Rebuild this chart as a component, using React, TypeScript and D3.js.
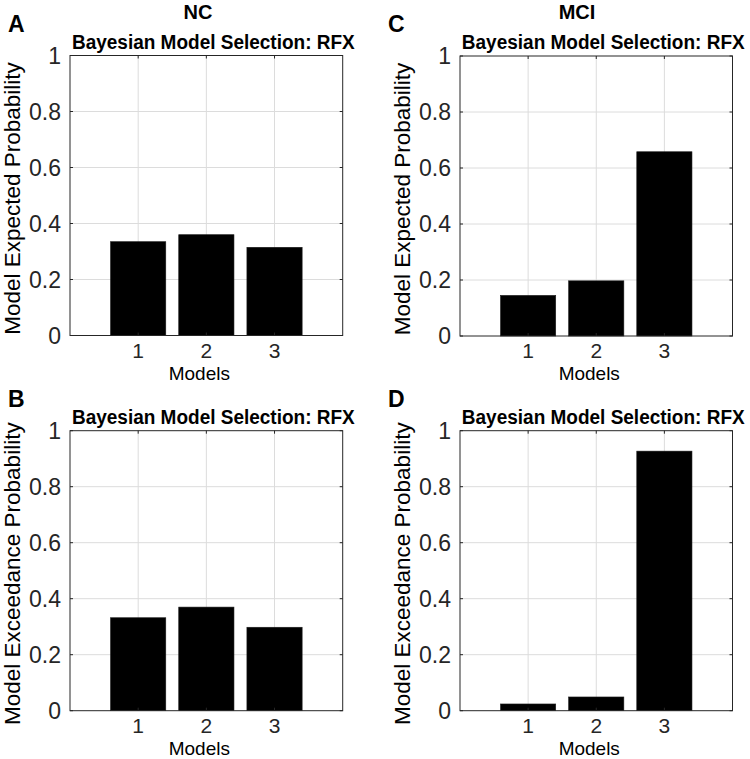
import React from "react";
import * as d3 from "d3";

const models = [1, 2, 3];
const ncExpected = [0.335, 0.36, 0.315];
const mciExpected = [0.145, 0.197, 0.658];
const ncExceedance = [0.332, 0.37, 0.298];
const mciExceedance = [0.024, 0.049, 0.927];
const yTicks = [0, 0.2, 0.4, 0.6, 0.8, 1];
const yTickLabels = ["0", "0.2", "0.4", "0.6", "0.8", "1"];
const groupTitles = ["NC", "MCI"];
const panelLetters = ["A", "B", "C", "D"];
const plotTitle = "Bayesian Model Selection: RFX";
const xLabel = "Models";
const yLabels = ["Model Expected Probability", "Model Exceedance Probability"];

const FONT = "'Liberation Sans', Arial, Helvetica, sans-serif";
const AX = "#262626";

type PanelProps = {
  values: number[];
  x0: number; x1: number; y0: number; y1: number;
  yLabel: string;
  letter: string;
  letterX: number;
};

function Panel({ values, x0, x1, y0, y1, yLabel, letter, letterX }: PanelProps) {
  const x = d3.scaleLinear().domain([0, 4]).range([x0, x1]);
  const y = d3.scaleLinear().domain([0, 1]).range([y1, y0]);
  const bw = x(0.81) - x(0);
  const tl = 3;
  const cx = (x0 + x1) / 2;
  const cy = (y0 + y1) / 2;
  return (
    <g>
      {models.map((m) => (
        <line key={"gx" + m} x1={x(m)} x2={x(m)} y1={y0} y2={y1} stroke="#dcdcdc" strokeWidth={1} />
      ))}
      {yTicks.slice(1, -1).map((t) => (
        <line key={"gy" + t} x1={x0} x2={x1} y1={y(t)} y2={y(t)} stroke="#dcdcdc" strokeWidth={1} />
      ))}
      {values.map((v, i) => (
        <rect key={"b" + i} x={x(models[i]) - bw / 2} y={y(v)} width={bw} height={y(0) - y(v)}
          fill="#000" stroke="#1a1a1a" strokeWidth={0.6} />
      ))}
      <rect x={x0} y={y0} width={x1 - x0} height={y1 - y0} fill="none" stroke={AX} strokeWidth={1} />
      {yTicks.map((t) => (
        <g key={"ty" + t}>
          <line x1={x0} x2={x0 + tl} y1={y(t)} y2={y(t)} stroke={AX} />
          <line x1={x1} x2={x1 - tl} y1={y(t)} y2={y(t)} stroke={AX} />
        </g>
      ))}
      {models.map((m) => (
        <g key={"tx" + m}>
          <line x1={x(m)} x2={x(m)} y1={y1} y2={y1 - tl} stroke={AX} />
          <line x1={x(m)} x2={x(m)} y1={y0} y2={y0 + tl} stroke={AX} />
        </g>
      ))}
      {yTicks.map((t, i) => (
        <text key={"yl" + t} x={x0 - 9} y={y(t)} dy="0.36em" textAnchor="end"
          fontFamily={FONT} fontSize={23} fill={AX}>{yTickLabels[i]}</text>
      ))}
      {models.map((m) => (
        <text key={"xl" + m} x={x(m)} y={y1 + 22} textAnchor="middle"
          fontFamily={FONT} fontSize={21} fill={AX}>{m}</text>
      ))}
      <text x={cx - 7} y={y1 + 44} textAnchor="middle" fontFamily={FONT} fontSize={19} fill="#000">{xLabel}</text>
      <text transform={`translate(${x0 - 50},${cy + 3}) rotate(-90)`} textAnchor="middle"
        fontFamily={FONT} fontSize={22.5} fill="#000">{yLabel}</text>
      <text transform={`translate(${cx + 7},${y0 - 7}) scale(1,1.08)`} textAnchor="middle"
        fontFamily={FONT} fontSize={19} fontWeight="bold" fill="#000">{plotTitle}</text>
      <text x={letterX} y={y0 - 24} fontFamily={FONT} fontSize={23} fontWeight="bold" fill="#000">{letter}</text>
    </g>
  );
}

export default function App() {
  return (
    <svg width={750} height={759} style={{ position: "absolute", left: 0, top: 0, background: "#fff" }}>
      <rect width={750} height={759} fill="#fff" />
      <text x={198} y={19} textAnchor="middle" fontFamily={FONT} fontSize={20} fontWeight="bold">{groupTitles[0]}</text>
      <text x={577} y={19} textAnchor="middle" fontFamily={FONT} fontSize={20} fontWeight="bold">{groupTitles[1]}</text>
      <Panel values={ncExpected} x0={70} x1={342.7} y0={55.5} y1={335.5} yLabel={yLabels[0]} letter={panelLetters[0]} letterX={8} />
      <Panel values={ncExceedance} x0={70} x1={342.7} y0={430.7} y1={710.7} yLabel={yLabels[1]} letter={panelLetters[1]} letterX={8} />
      <Panel values={mciExpected} x0={460} x1={732.5} y0={56} y1={336} yLabel={yLabels[0]} letter={panelLetters[2]} letterX={388} />
      <Panel values={mciExceedance} x0={460} x1={732.5} y0={430.7} y1={710.7} yLabel={yLabels[1]} letter={panelLetters[3]} letterX={388} />
    </svg>
  );
}
